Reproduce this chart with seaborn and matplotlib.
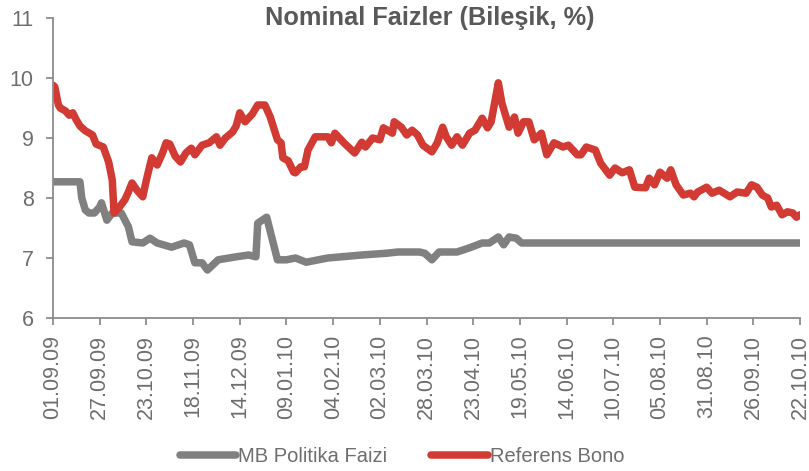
import matplotlib
matplotlib.use("Agg")
import matplotlib.pyplot as plt
import seaborn as sns
import pandas as pd
from matplotlib.lines import Line2D

# ---- data ----
bono_dates = [
    "2009-09-01", "2009-09-02", "2009-09-04", "2009-09-05", "2009-09-08", "2009-09-10",
    "2009-09-12", "2009-09-14", "2009-09-16", "2009-09-19", "2009-09-23", "2009-09-25",
    "2009-09-29", "2009-10-02", "2009-10-04", "2009-10-05", "2009-10-08", "2009-10-11",
    "2009-10-13", "2009-10-15", "2009-10-18", "2009-10-21", "2009-10-23", "2009-10-26",
    "2009-10-29", "2009-11-01", "2009-11-03", "2009-11-05", "2009-11-08", "2009-11-11",
    "2009-11-14", "2009-11-17", "2009-11-19", "2009-11-23", "2009-11-27", "2009-12-01",
    "2009-12-03", "2009-12-06", "2009-12-10", "2009-12-12", "2009-12-14", "2009-12-17",
    "2009-12-21", "2009-12-24", "2009-12-28", "2009-12-31", "2010-01-04", "2010-01-06",
    "2010-01-07", "2010-01-10", "2010-01-13", "2010-01-14", "2010-01-17", "2010-01-19",
    "2010-01-21", "2010-01-25", "2010-02-01", "2010-02-03", "2010-02-05", "2010-02-10",
    "2010-02-16", "2010-02-20", "2010-02-22", "2010-02-26", "2010-03-02", "2010-03-04",
    "2010-03-09", "2010-03-10", "2010-03-14", "2010-03-17", "2010-03-20", "2010-03-23",
    "2010-03-26", "2010-03-31", "2010-04-03", "2010-04-06", "2010-04-08", "2010-04-11",
    "2010-04-14", "2010-04-17", "2010-04-21", "2010-04-24", "2010-04-28", "2010-05-01",
    "2010-05-03", "2010-05-07", "2010-05-09", "2010-05-13", "2010-05-16", "2010-05-18",
    "2010-05-21", "2010-05-24", "2010-05-27", "2010-05-31", "2010-06-03", "2010-06-07",
    "2010-06-12", "2010-06-15", "2010-06-20", "2010-06-22", "2010-06-25", "2010-06-30",
    "2010-07-03", "2010-07-08", "2010-07-11", "2010-07-15", "2010-07-19", "2010-07-22",
    "2010-07-28", "2010-07-30", "2010-08-02", "2010-08-05", "2010-08-09", "2010-08-11",
    "2010-08-14", "2010-08-18", "2010-08-22", "2010-08-24", "2010-08-26", "2010-08-31",
    "2010-09-03", "2010-09-07", "2010-09-13", "2010-09-17", "2010-09-22", "2010-09-25",
    "2010-09-28", "2010-10-01", "2010-10-04", "2010-10-06", "2010-10-09", "2010-10-12",
    "2010-10-15", "2010-10-18", "2010-10-20", "2010-10-22",
]
bono_values = [
    9.88, 9.85, 9.55, 9.50, 9.45, 9.38,
    9.42, 9.30, 9.20, 9.12, 9.05, 8.90,
    8.85, 8.60, 8.30, 7.75, 7.85, 7.97,
    8.10, 8.25, 8.12, 8.02, 8.30, 8.67,
    8.55, 8.75, 8.92, 8.90, 8.70, 8.60,
    8.75, 8.83, 8.72, 8.88, 8.92, 9.02,
    8.88, 9.00, 9.10, 9.20, 9.42, 9.27,
    9.40, 9.55, 9.55, 9.35, 8.97, 8.92,
    8.67, 8.62, 8.43, 8.42, 8.52, 8.52,
    8.80, 9.02, 9.02, 8.92, 9.08, 8.92,
    8.75, 8.93, 8.85, 9.00, 8.97, 9.17,
    9.08, 9.27, 9.18, 9.05, 9.13, 9.05,
    8.88, 8.77, 8.92, 9.18, 9.02, 8.88,
    9.02, 8.88, 9.08, 9.13, 9.33, 9.17,
    9.27, 9.92, 9.58, 9.18, 9.35, 9.08,
    9.27, 9.27, 8.97, 9.08, 8.72, 8.92,
    8.85, 8.88, 8.72, 8.72, 8.85, 8.80,
    8.58, 8.38, 8.50, 8.42, 8.47, 8.18,
    8.17, 8.33, 8.22, 8.43, 8.33, 8.47,
    8.22, 8.05, 8.08, 8.02, 8.10, 8.18,
    8.08, 8.13, 8.02, 8.10, 8.08, 8.22,
    8.18, 8.05, 8.00, 7.85, 7.88, 7.72,
    7.77, 7.75, 7.68, 7.72,
]

mb_dates = [
    "2009-09-01", "2009-09-16", "2009-09-17", "2009-09-19", "2009-09-21", "2009-09-24",
    "2009-09-27", "2009-09-28", "2009-10-01", "2009-10-04", "2009-10-09", "2009-10-13",
    "2009-10-15", "2009-10-21", "2009-10-25", "2009-10-29", "2009-11-06", "2009-11-13",
    "2009-11-16", "2009-11-19", "2009-11-23", "2009-11-26", "2009-12-02", "2009-12-12",
    "2009-12-19", "2009-12-23", "2009-12-24", "2009-12-29", "2010-01-04", "2010-01-09",
    "2010-01-14", "2010-01-20", "2010-02-01", "2010-02-20", "2010-03-06", "2010-03-12",
    "2010-03-24", "2010-03-27", "2010-03-31", "2010-04-04", "2010-04-14", "2010-04-21",
    "2010-04-28", "2010-05-02", "2010-05-07", "2010-05-10", "2010-05-13", "2010-05-17",
    "2010-05-20", "2010-10-22",
]
mb_values = [
    8.27, 8.27, 8.00, 7.80, 7.75, 7.75,
    7.85, 7.92, 7.63, 7.75, 7.75, 7.52,
    7.27, 7.25, 7.33, 7.25, 7.18, 7.25,
    7.22, 6.92, 6.92, 6.80, 6.97, 7.02,
    7.05, 7.02, 7.58, 7.68, 6.97, 6.97,
    7.00, 6.93, 7.00, 7.05, 7.08, 7.10,
    7.10, 7.08, 6.97, 7.10, 7.10, 7.17,
    7.25, 7.25, 7.35, 7.22, 7.35, 7.33,
    7.25, 7.25,
]

series_names = ["MB Politika Faizi", "Referens Bono"]
series_colors = ["#808080", "#d13b33"]
y_ticks = [6, 7, 8, 9, 10, 11]
title_text = "Nominal Faizler (Bileşik, %)"

# ---- frame ----
df = pd.concat([
    pd.DataFrame({"Tarih": pd.to_datetime(mb_dates), "Deger": mb_values, "Seri": series_names[0]}),
    pd.DataFrame({"Tarih": pd.to_datetime(bono_dates), "Deger": bono_values, "Seri": series_names[1]}),
], ignore_index=True)

sns.set_style("white")
plt.rcParams["font.family"] = ["Liberation Sans", "DejaVu Sans"]

fig = plt.figure(figsize=(8.09, 4.71), dpi=100)
ax = fig.add_axes([53 / 809, 1 - 318 / 471, (800 - 53) / 809, 300 / 471])

sns.lineplot(data=df, x="Tarih", y="Deger", hue="Seri", hue_order=series_names,
             palette=dict(zip(series_names, series_colors)), linewidth=5.4,
             ax=ax, legend=False, solid_capstyle="round", solid_joinstyle="round",
             estimator=None, sort=False)

start = pd.Timestamp("2009-09-01")
end = pd.Timestamp("2010-10-22")
ticks = pd.date_range(start, end, freq="26D")
ax.set_xlim(start, end)
ax.set_xticks(ticks)
ax.set_xticklabels([t.strftime("%d.%m.%y") for t in ticks], rotation=90)
ax.set_ylim(6, 11)
ax.set_yticks(y_ticks)
ax.set_yticklabels([str(v) for v in y_ticks])
ax.set_xlabel("")
ax.set_ylabel("")

for s in ["top", "right"]:
    ax.spines[s].set_visible(False)
for s in ["left", "bottom"]:
    ax.spines[s].set_color("#8c8c8c")
    ax.spines[s].set_linewidth(1.3)
ax.tick_params(axis="both", which="both", direction="out", length=5, width=1.3,
               color="#8c8c8c", labelcolor="#6e6e6e", labelsize=15.5, left=True, bottom=True)
ax.tick_params(axis="x", pad=7)
ax.tick_params(axis="y", pad=9)

fig.text(430 / 809, 1 - 18 / 471, title_text, ha="center", va="center",
         fontsize=18.3, fontweight="bold", color="#595959")

# legend
handles = [Line2D([0], [0], color=c, lw=5.4, solid_capstyle="round") for c in series_colors]
fig.legend(handles, series_names, loc="center", bbox_to_anchor=(402 / 809, 1 - 457 / 471),
           ncol=2, frameon=False, handlelength=2.8, handletextpad=0.1,
           columnspacing=2.2, labelcolor="#6e6e6e",
           prop={"family": ["Liberation Sans", "DejaVu Sans"], "size": 14.5})

fig.savefig("out.png", dpi=100)
